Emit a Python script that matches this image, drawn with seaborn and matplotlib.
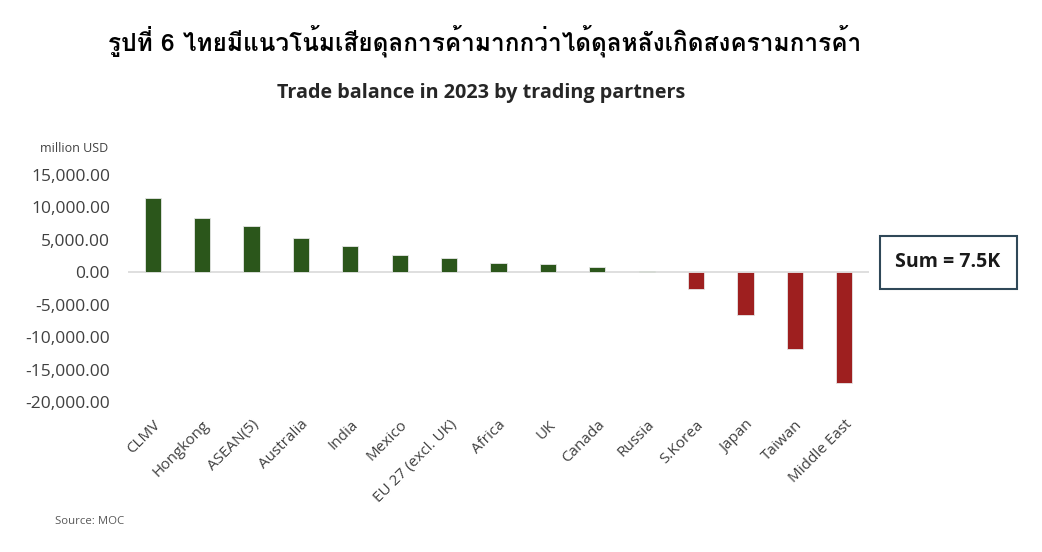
import matplotlib
matplotlib.use("Agg")
import matplotlib.pyplot as plt
import seaborn as sns
import pandas as pd
from matplotlib import font_manager
from matplotlib.patches import Rectangle

# ข้อมูลดุลการค้าปี 2023 (ล้าน USD) อ่านจากภาพ
partners = ["CLMV", "Hongkong", "ASEAN(5)", "Australia", "India", "Mexico",
            "EU 27 (excl. UK)", "Africa", "UK", "Canada", "Russia",
            "S.Korea", "Japan", "Taiwan", "Middle East"]
balance = [11400, 8400, 7100, 5300, 4100, 2600, 2200, 1500, 1300, 750, 150,
           -2600, -6600, -11800, -17000]
y_ticks = [15000, 10000, 5000, 0, -5000, -10000, -15000, -20000]

title_th = "รูปที่ 6 ไทยมีแนวโน้มเสียดุลการค้ามากกว่าได้ดุลหลังเกิดสงครามการค้า"
subtitle = "Trade balance in 2023 by trading partners"
sum_label = "Sum = 7.5K"

GREEN = "#2b561b"
RED = "#9e1f1f"

# หา font ที่มีอักษรไทย
thai_font = None
try:
    from fontTools.ttLib import TTFont
    for f in font_manager.fontManager.ttflist:
        try:
            cmap = TTFont(f.fname, fontNumber=0, lazy=True).getBestCmap()
        except Exception:
            continue
        if cmap and 0x0E23 in cmap:
            thai_font = f.name
            break
except Exception:
    pass

sns.set_style("white")
plt.rcParams['font.family'] = ['Open Sans', 'DejaVu Sans']

df = pd.DataFrame({"partner": partners, "balance": balance})
df["sign"] = ["pos" if v >= 0 else "neg" for v in balance]

W, H = 1042, 552
fig = plt.figure(figsize=(W / 100, H / 100), dpi=100)
ax = fig.add_axes([128 / W, 1 - 402 / H, 741 / W, 227 / H])

sns.barplot(data=df, x="partner", y="balance", hue="sign",
            palette={"pos": GREEN, "neg": RED}, dodge=False, width=0.33,
            saturation=1, edgecolor="#e6e6e6", linewidth=0.6, legend=False, ax=ax)

ax.axhline(0, color="#d9d9d9", lw=1.2, zorder=0)
ax.set_ylim(-20000, 15000)
ax.set_xlim(-0.5, len(partners) - 0.5)
ax.set_yticks(y_ticks)
ax.set_yticklabels([f"{v:,.2f}" for v in y_ticks], fontsize=12.5, color="#404040")
ax.tick_params(axis="y", length=0, pad=13)
ax.tick_params(axis="x", length=0, pad=11)
ax.set_xticks(range(len(partners)))
ax.set_xticklabels(partners, rotation=45, ha="right", rotation_mode="anchor",
                   fontsize=11, color="#404040")
ax.set_xlabel("")
ax.set_ylabel("")
sns.despine(ax=ax, left=True, bottom=True)

# ชื่อรูปภาษาไทย
th_family = [thai_font, 'DejaVu Sans'] if thai_font else ['DejaVu Sans']
fig.text(485 / W, 1 - 41 / H, title_th, ha="center", va="center",
         fontsize=17.6, fontweight="bold", family=th_family, color="black")
fig.text(481 / W, 1 - 93 / H, subtitle, ha="center", va="center",
         fontsize=14.2, fontweight="bold", color="#262626")
fig.text(108 / W, 1 - 148 / H, "million USD", ha="right", va="center",
         fontsize=9, color="#404040")
fig.text(55 / W, 1 - 522 / H, "Source: MOC", ha="left", va="center",
         fontsize=8.2, color="#595959")

# กล่องผลรวม
fig.patches.append(Rectangle((880 / W, 1 - 289 / H), 137 / W, 53 / H,
                             transform=fig.transFigure, facecolor="white",
                             edgecolor="#2f4858", lw=1.5))
fig.text(948 / W, 1 - 262 / H, sum_label, ha="center", va="center",
         fontsize=14, fontweight="bold", color="#1a1a1a")

fig.savefig("out.png", dpi=100)
